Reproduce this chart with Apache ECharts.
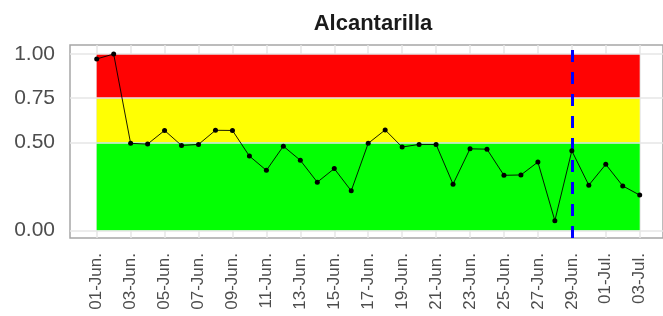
<!DOCTYPE html>
<html>
<head>
<meta charset="utf-8">
<script src="https://cdn.jsdelivr.net/npm/echarts@6/dist/echarts.min.js"></script>
<style>
  html, body { margin: 0; padding: 0; background: #fff; }
  #main { width: 663px; height: 316px; }
</style>
</head>
<body>
<div id="main"></div>
<script>
// fechas (01-Jun. .. 03-Jul.)
var dates = ['01-Jun.','02-Jun.','03-Jun.','04-Jun.','05-Jun.','06-Jun.','07-Jun.','08-Jun.','09-Jun.','10-Jun.',
  '11-Jun.','12-Jun.','13-Jun.','14-Jun.','15-Jun.','16-Jun.','17-Jun.','18-Jun.','19-Jun.','20-Jun.',
  '21-Jun.','22-Jun.','23-Jun.','24-Jun.','25-Jun.','26-Jun.','27-Jun.','28-Jun.','29-Jun.','30-Jun.',
  '01-Jul.','02-Jul.','03-Jul.'];
var values = [0.972, 1.0, 0.494, 0.490, 0.567, 0.482, 0.488, 0.568, 0.567, 0.422,
  0.341, 0.478, 0.398, 0.274, 0.351, 0.225, 0.494, 0.570, 0.473, 0.488,
  0.488, 0.263, 0.463, 0.461, 0.313, 0.315, 0.388, 0.056, 0.452, 0.257,
  0.375, 0.253, 0.201];
var yTicks = [0, 0.5, 0.75, 1];
var bandLimits = [0, 0.5, 0.75, 1];
var bandColors = ['#00ff00', '#ffff00', '#ff0000'];
var cutDate = '29-Jun.';

var font = 'Liberation Sans, Arial, sans-serif';
var yMin = -0.042, yMax = 1.051;

var bands = [];
for (var i = 0; i < bandColors.length; i++) {
  bands.push([
    { xAxis: 0, yAxis: bandLimits[i], itemStyle: { color: bandColors[i], opacity: 0.99 } },
    { xAxis: dates.length - 1, yAxis: bandLimits[i + 1] }
  ]);
}

var chart = echarts.init(document.getElementById('main'));
chart.setOption({
  animation: false,
  title: {
    text: 'Alcantarilla',
    left: 368, top: 8, textAlign: 'center',
    textStyle: { fontFamily: font, fontSize: 22, fontWeight: 'bold', color: '#1a1a1a' }
  },
  grid: [
    // panel completo
    { left: 70, right: -3, top: 45, bottom: 78, show: true, borderColor: '#a6a6a6', borderWidth: 1.5, backgroundColor: '#fff' },
    // zona de datos
    { left: 96.7, right: 23.3, top: 45, bottom: 78 }
  ],
  xAxis: [
    { gridIndex: 0, type: 'value', min: 0, max: 1, show: false },
    {
      gridIndex: 1, type: 'value', min: 0, max: dates.length - 1, interval: 2,
      axisLine: { show: false }, axisTick: { show: false },
      splitLine: { show: true, lineStyle: { color: '#e6e6e6', width: 1.5 } },
      axisLabel: {
        rotate: 90, margin: 15, fontFamily: font, fontSize: 17, color: '#4d4d4d',
        formatter: function (v) { return dates[v] || ''; }
      }
    }
  ],
  yAxis: [
    {
      gridIndex: 0, type: 'value', min: yMin, max: yMax,
      axisLine: { show: false }, axisTick: { show: false }, splitLine: { show: false },
      axisLabel: {
        customValues: yTicks, margin: 15, fontFamily: font, fontSize: 21, color: '#4d4d4d',
        formatter: function (v) { return v.toFixed(2); }
      }
    },
    { gridIndex: 1, type: 'value', min: yMin, max: yMax, show: false }
  ],
  series: [
    {
      type: 'line', xAxisIndex: 0, yAxisIndex: 0, data: [], silent: true,
      markLine: {
        silent: true, symbol: 'none', label: { show: false },
        lineStyle: { color: '#e6e6e6', width: 1.5, type: 'solid' },
        data: yTicks.map(function (t) { return { yAxis: t }; })
      }
    },
    // bandas de color
    {
      type: 'line', xAxisIndex: 1, yAxisIndex: 1, data: [], silent: true, z: 1,
      markArea: { silent: true, data: bands }
    },
    {
      type: 'line', xAxisIndex: 1, yAxisIndex: 1, z: 5,
      data: values.map(function (v, i) { return [i, v]; }),
      symbol: 'circle', symbolSize: 5, showAllSymbol: true,
      itemStyle: { color: '#000', borderWidth: 0 },
      lineStyle: { color: '#000', width: 0.9 }
    },
    {
      type: 'line', xAxisIndex: 1, yAxisIndex: 1, data: [], silent: true, z: 6,
      markLine: {
        silent: true, symbol: 'none', label: { show: false },
        lineStyle: { color: '#0000ff', width: 3, type: [12, 10] },
        data: [{ xAxis: dates.indexOf(cutDate) }]
      }
    }
  ]
});
</script>
</body>
</html>
